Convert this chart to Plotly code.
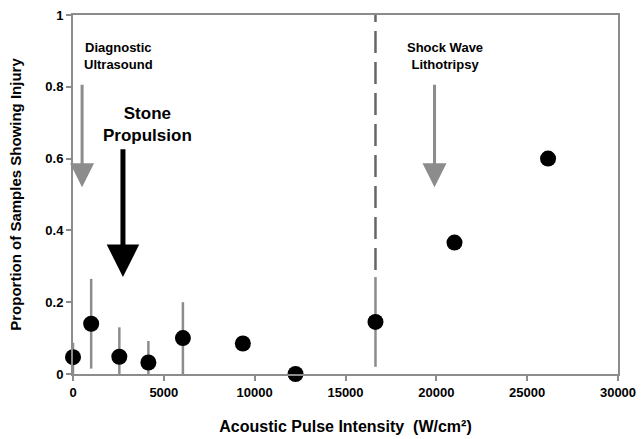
import plotly.graph_objects as go

intensity = [0, 1000, 2550, 4150, 6050, 9350, 12250, 16650, 21000, 26150]
proportion = [0.047, 0.14, 0.048, 0.032, 0.10, 0.085, 0.0, 0.145, 0.366, 0.60]
err_plus = [0.040, 0.125, 0.082, 0.060, 0.10, 0, 0, 0.125, 0, 0]
err_minus = [0.047, 0.125, 0.048, 0.032, 0.10, 0, 0, 0.125, 0, 0]

x_ticks = [0, 5000, 10000, 15000, 20000, 25000, 30000]
x_tick_labels = ["0", "5000", "10000", "15000", "20000", "25000", "30000"]
y_ticks = [0, 0.2, 0.4, 0.6, 0.8, 1]
y_tick_labels = ["0", "0.2", "0.4", "0.6", "0.8", "1"]

threshold_x = 16650
threshold_y = [0.29, 1]

labels = ["Diagnostic<br>Ultrasound", "Stone<br>Propulsion", "Shock Wave<br>Lithotripsy"]
label_x = [2500, 4100, 20500]
label_y = [0.885, 0.695, 0.885]
arrow_x = [500, 2750, 19900]
arrow_top = [0.81, 0.63, 0.81]
arrow_tip = [0.52, 0.27, 0.52]

FONT = "Liberation Sans, Arial, Helvetica, sans-serif"
GRAY = "#8c8c8c"

fig = go.Figure()

fig.add_trace(go.Scatter(
    x=[threshold_x, threshold_x], y=threshold_y, mode="lines",
    line=dict(color="#666666", width=2.5, dash="22px,9px"),
    hoverinfo="skip", showlegend=False, cliponaxis=False,
))

fig.add_trace(go.Scatter(
    x=intensity, y=proportion, mode="markers",
    marker=dict(color="black", size=16),
    error_y=dict(type="data", symmetric=False, array=err_plus, arrayminus=err_minus,
                 color=GRAY, thickness=2.5, width=0),
    showlegend=False, cliponaxis=False,
))

annotations = []
for i, txt in enumerate(labels):
    big = (i == 1)
    annotations.append(dict(
        x=label_x[i], y=label_y[i], xref="x", yref="y", text="<b>" + txt + "</b>",
        showarrow=False, font=dict(family=FONT, size=17 if big else 13, color="black"),
        align="center", xanchor="center", yanchor="middle",
    ))
    annotations.append(dict(
        x=arrow_x[i], y=arrow_tip[i], ax=arrow_x[i], ay=arrow_top[i],
        xref="x", yref="y", axref="x", ayref="y", text="",
        showarrow=True, arrowhead=2, arrowsize=1.3 if big else 1.6,
        arrowwidth=5 if big else 3, arrowcolor="black" if big else GRAY,
    ))

fig.update_layout(
    width=642, height=439,
    margin=dict(l=73, r=24, t=15, b=65, autoexpand=False),
    paper_bgcolor="white", plot_bgcolor="white",
    font=dict(family=FONT, color="black"),
    annotations=annotations,
    xaxis=dict(
        range=[0, 30000], tickvals=x_ticks, ticktext=["<b>%s</b>" % t for t in x_tick_labels],
        ticks="outside", ticklen=5, tickcolor=GRAY, automargin=False,
        tickwidth=2, showgrid=False, zeroline=False, showline=True, linecolor=GRAY,
        linewidth=2, mirror=True, tickfont=dict(family=FONT, size=13),
        title=dict(text="<b>Acoustic Pulse Intensity  (W/cm²)</b>",
                   font=dict(family=FONT, size=16), standoff=22),
    ),
    yaxis=dict(
        range=[0, 1], tickvals=y_ticks, ticktext=["<b>%s</b>" % t for t in y_tick_labels],
        ticks="outside", ticklen=5, tickcolor=GRAY, tickwidth=2, showgrid=False,
        zeroline=False, showline=True, linecolor=GRAY, linewidth=2, mirror=True,
        tickfont=dict(family=FONT, size=13), automargin=False,
        title=dict(text="<b>Proportion of Samples Showing Injury</b>",
                   font=dict(family=FONT, size=15), standoff=20),
    ),
)

fig.write_html("out.html", config={"displayModeBar": False},
               post_script="document.body.style.margin='0';")
